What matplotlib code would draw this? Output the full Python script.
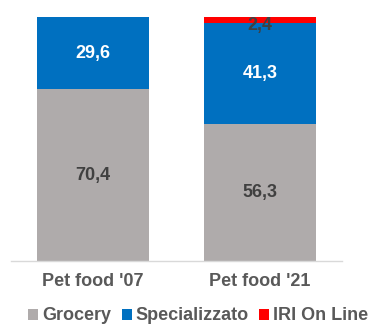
import matplotlib
matplotlib.use("Agg")
import matplotlib.pyplot as plt
from matplotlib.patches import Patch

categories = ["Pet food '07", "Pet food '21"]
grocery = [70.4, 56.3]
specializzato = [29.6, 41.3]
online = [0.0, 2.4]
series_names = ["Grocery", "Specializzato", "IRI On Line"]

colors = ["#AFABAB", "#0070C0", "#FF0000"]
plt.rcParams["font.family"] = ["Liberation Sans", "DejaVu Sans"]

W, H = 375, 325
fig = plt.figure(figsize=(W / 100, H / 100), dpi=100)
ax = fig.add_axes([11 / W, (H - 261) / H, (342 - 11) / W, (261 - 17) / H])

x = list(range(len(categories)))
width = 0.67
bottom = [0.0] * len(x)
label_colors = ["#404040", "white", "#404040"]
for vals, col, lc in zip([grocery, specializzato, online], colors, label_colors):
    ax.bar(x, vals, width, bottom=bottom, color=col, edgecolor="none")
    for i, v in enumerate(vals):
        if v > 0:
            ax.text(x[i], bottom[i] + v / 2 if v > 5 else bottom[i] - 1.2, f"{v:.1f}".replace(".", ","),
                    ha="center", va="center", fontsize=13, fontweight="bold", color=lc)
    bottom = [b + v for b, v in zip(bottom, vals)]

ax.set_xlim(-0.491, 1.491)
ax.set_ylim(0, 100)
ax.set_yticks([])
ax.set_xticks(x)
ax.set_xticklabels(categories, fontsize=13, fontweight="bold", color="#595959")
ax.tick_params(axis="x", length=0, pad=9)
for s in ["top", "right", "left"]:
    ax.spines[s].set_visible(False)
ax.spines["bottom"].set_color("#D9D9D9")
ax.spines["bottom"].set_linewidth(1)

handles = [Patch(facecolor=c, edgecolor="none") for c in colors]
leg = fig.legend(handles, series_names, loc="center", bbox_to_anchor=(198 / W, 9 / H),
                 ncol=3, frameon=False, handlelength=0.55, handleheight=0.55,
                 handletextpad=0.2, columnspacing=0.6, borderpad=0,
                 prop={"size": 13, "weight": "bold"})
for t in leg.get_texts():
    t.set_color("#595959")

fig.savefig("out.png", dpi=100)
